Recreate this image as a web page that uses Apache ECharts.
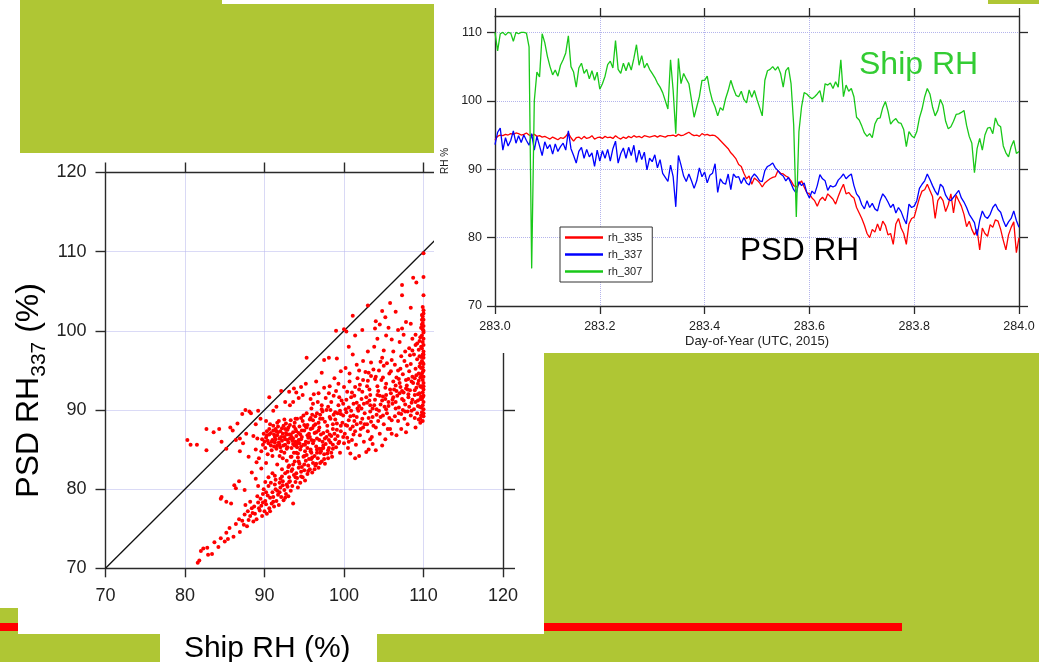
<!DOCTYPE html>
<html><head><meta charset="utf-8">
<script src="https://cdn.jsdelivr.net/npm/echarts@6.0.0/dist/echarts.min.js"></script>
<style>html,body{margin:0;padding:0;background:#fff;overflow:hidden}#chart{width:1039px;height:662px}</style>
</head><body><div id="chart"></div>
<script>
// ---------------- data ----------------
// time series: Day-of-Year 283.000 .. 284.000, sampled every 0.005 day (201 samples)
const dayStart = 283.0, dayStep = 0.005;
const timeTicks = [283.0, 283.2, 283.4, 283.6, 283.8, 284.0];
const rhTicks = [70, 80, 90, 100, 110];
const seriesNames = ['rh_335', 'rh_337', 'rh_307'];

const rh335 = [94.3,94.8,95.0,94.9,95.1,95.0,95.2,95.1,95.3,95.2,95.0,95.1,95.3,95.0,94.9,95.1,94.8,94.9,94.7,94.8,
94.6,94.4,94.7,94.5,94.3,94.6,94.5,94.8,95.3,94.6,94.1,94.6,94.7,94.4,94.8,94.5,94.6,94.9,94.4,94.6,
94.7,94.5,94.8,94.6,94.7,94.5,94.9,94.6,94.4,94.7,94.5,94.8,94.6,94.9,94.7,94.8,94.6,94.9,94.8,94.7,
94.8,94.9,94.7,94.9,94.8,94.7,94.9,
94.9,95.0,94.8,95.1,94.9,95.0,95.2,95.4,95.1,94.9,95.0,94.8,95.2,95.0,
95.1,94.9,95.0,94.9,94.6,94.2,93.8,93.4,93.0,92.4,92.0,91.5,90.7,90.4,89.4,88.6,89.0,87.8,88.7,88.4,
88.0,87.4,88.0,88.3,88.6,88.8,88.9,89.8,89.4,89.3,89.0,88.8,88.3,87.6,87.4,87.8,88.3,87.4,86.6,86.4,
85.8,85.4,84.6,85.5,85.9,85.4,86.4,86.0,85.6,84.9,86.0,87.0,87.8,
86.4,86.6,86.1,85.8,84.4,83.6,82.8,81.8,80.6,80.0,81.2,80.8,82.0,81.0,82.4,81.8,80.4,80.6,79.0,82.0,
82.8,81.4,80.6,79.0,82.0,82.8,83.0,84.4,85.8,86.8,87.0,87.8,86.9,86.0,82.8,85.4,86.0,85.4,83.8,84.8,
86.4,83.6,86.2,85.4,84.6,83.4,81.6,82.4,81.2,80.4,81.2,78.2,81.4,80.6,80.2,81.9,81.5,82.6,82.4,81.2,
79.6,78.2,80.4,81.5,82.3,77.8,80.0];

const rh337 = [93.6,95.4,96.0,92.8,94.6,93.4,94.2,95.6,93.8,94.9,93.9,95.0,94.2,93.5,95.2,92.8,94.8,93.4,92.0,94.0,
93.0,93.6,92.2,93.7,92.6,93.3,93.8,92.8,95.6,93.0,92.0,90.9,92.6,93.2,91.6,92.9,91.8,92.4,90.4,92.8,
91.2,92.7,91.6,92.9,91.2,93.0,94.1,90.9,92.3,93.1,91.6,93.2,92.0,93.5,91.0,92.8,91.4,92.5,89.9,91.6,
91.1,92.1,90.2,91.4,89.4,88.8,88.2,
90.6,88.9,84.5,92.0,90.6,89.0,88.2,89.3,88.3,87.2,88.3,90.2,88.9,89.6,88.0,89.1,89.4,90.8,86.6,88.6,
88.0,87.8,89.3,87.0,89.3,88.8,88.9,87.9,88.8,88.0,87.7,88.8,89.3,88.9,88.3,88.2,89.8,90.4,90.6,90.9,
90.2,89.8,89.3,89.0,88.3,88.8,87.9,87.0,86.5,88.2,87.6,88.0,86.6,85.8,86.8,86.4,87.6,89.2,88.6,88.3,
86.9,87.6,87.4,87.6,88.4,88.8,89.3,
88.6,89.0,89.3,87.6,86.4,85.9,84.8,84.2,85.4,84.4,85.0,84.2,83.9,85.4,86.4,85.9,85.2,84.4,84.9,83.6,
84.4,83.8,82.8,82.0,84.9,84.4,84.6,85.4,87.2,87.8,88.3,89.3,88.5,87.6,86.8,86.2,87.8,87.4,86.2,85.6,
85.4,85.9,86.4,86.9,85.8,85.2,84.4,83.4,82.8,82.2,80.3,82.5,83.9,83.1,82.8,83.4,84.4,84.9,84.1,83.7,
82.5,81.6,82.3,82.8,83.9,82.5,81.5];

const rh307 = [110.0,107.3,109.8,110.0,109.6,110.0,109.9,108.7,110.0,109.8,110.0,110.0,109.9,107.9,75.5,100.0,104.2,103.5,109.8,108.5,
106.5,105.0,103.8,104.5,103.6,105.2,106.0,107.0,109.5,105.0,104.2,102.0,104.8,105.5,104.0,104.6,103.2,104.4,103.0,104.2,
101.7,102.5,103.6,105.3,105.8,104.8,108.8,104.6,104.0,105.5,104.4,105.6,104.5,106.2,108.2,105.2,106.6,104.8,105.5,104.6,
104.0,103.4,102.6,102.0,101.2,100.0,98.8,
106.0,101.5,95.2,106.2,102.5,104.0,103.2,102.5,100.1,97.6,99.1,100.6,103.0,103.0,103.6,101.5,100.0,99.1,97.8,99.0,
98.6,100.3,101.5,103.0,101.8,100.8,100.6,101.4,100.2,99.7,101.6,100.5,101.5,100.2,99.0,97.8,103.0,104.4,104.6,105.0,
104.5,105.0,104.0,102.0,104.4,104.9,102.5,96.5,83.0,95.5,99.1,101.2,101.0,100.6,100.3,100.6,101.0,101.5,99.8,102.5,
102.3,102.6,101.8,102.8,102.0,106.0,100.6,
102.3,101.4,101.8,100.6,97.6,97.2,96.3,95.3,94.8,95.2,94.6,96.6,97.4,97.5,99.0,99.9,98.5,96.6,97.1,97.4,
96.8,96.7,95.8,93.3,95.5,94.9,94.6,95.5,97.5,98.8,100.6,101.8,101.0,99.1,97.8,98.6,100.2,99.3,97.0,95.9,
96.2,97.0,98.0,98.1,98.3,98.6,96.4,94.8,93.8,89.5,93.0,94.5,92.8,95.0,96.0,96.1,95.2,97.5,96.5,96.2,
93.4,92.4,91.8,93.3,94.2,92.3,92.6];

// scatter: [Ship RH, PSD RH337]
const scatterUpperCluster = [[90.2,86.5],[90.5,85.8],[90.8,87.1],[91.0,86.2],[91.2,85.4],[91.4,87.6],[91.6,86.8],[91.8,85.9],[92.0,87.3],[92.2,86.1],
[92.4,88.0],[92.6,85.6],[92.8,86.9],[93.0,87.8],[93.2,86.4],[93.4,85.2],[93.6,87.2],[93.8,88.4],[94.0,86.7],[94.2,85.9],
[94.4,87.9],[94.6,86.3],[94.8,88.6],[95.0,87.4],[95.2,86.0],[95.4,88.1],[95.6,87.0],[95.8,89.0],[96.0,87.7],[90.1,85.2],
[90.3,87.3],[90.6,86.9],[90.9,84.9],[91.1,88.0],[91.3,86.6],[91.5,85.1],[91.7,87.9],[91.9,86.4],[92.1,84.8],[92.3,87.0],
[92.5,86.6],[92.7,88.3],[92.9,85.3],[93.1,86.9],[93.3,88.7],[93.5,86.1],[93.7,84.6],[93.9,87.6],[94.1,88.9],[94.3,86.2],
[94.5,85.0],[94.7,87.4],[94.9,89.3],[95.1,85.6],[95.3,87.8],[95.5,86.5],[95.7,88.8],[95.9,86.2],[90.0,86.0],[90.4,84.4],
[90.7,88.2],[91.0,84.2],[91.3,85.9],[91.6,88.4],[92.0,85.3],[92.3,83.9],[92.6,87.6],[92.9,86.2],[93.3,84.1],[93.6,85.7],
[93.9,86.0],[94.2,84.5],[94.6,85.4],[95.0,84.2],[95.4,85.2],[95.8,84.8],[96.2,86.1],[96.4,88.2],[96.6,89.6],[96.8,87.4],
[97.0,88.9],[97.2,90.1],[89.8,85.6],[89.9,87.0],[89.7,86.3],[90.2,88.6],[89.6,84.8],[90.9,86.0],[91.4,86.3],[92.1,86.6],
[92.7,87.1],[93.4,86.6],[94.0,87.3],[94.5,86.9],[95.2,87.9],[95.7,86.6],[91.7,87.2],[92.4,85.5],[93.0,85.9],[93.7,87.9],
[90.4,86.1],[90.8,85.5],[91.2,86.9],[91.5,87.3],[91.9,85.6],[92.2,87.7],[92.6,86.3],[92.9,87.5],[93.3,86.9],[93.6,86.4],
[94.0,85.6],[94.3,87.1],[94.7,86.6],[95.0,88.1],[95.4,86.8],[95.8,87.6],[96.1,88.7],[96.5,87.2],[90.6,87.6],[91.1,87.4],
[91.8,88.6],[92.5,88.8],[93.2,88.1],[93.9,88.9],[94.6,89.0],[95.3,89.6],[96.0,89.4],[90.3,86.8],[91.6,85.5],[92.8,85.1],
[94.1,85.3],[95.5,85.9]];

const scatterMainBand = [[96.0,84.0],[96.1,85.8],[96.2,88.0],[95.9,90.2],[96.5,83.2],[96.6,86.4],[96.4,89.2],[96.7,91.0],
[97.0,84.6],[97.1,86.9],[96.9,87.8],[97.2,90.6],[97.5,83.8],[97.4,85.5],[97.6,88.5],[97.3,89.8],[97.7,91.5],
[98.0,84.9],[98.1,86.2],[97.9,87.3],[98.2,89.1],[98.0,90.4],[98.5,84.1],[98.4,86.7],[98.6,88.2],[98.3,90.0],[98.7,91.8],
[99.0,85.3],[99.1,87.5],[98.9,88.8],[99.2,89.6],[99.0,92.4],[99.5,84.6],[99.4,86.0],[99.6,88.0],[99.3,90.6],[99.7,91.2],
[100.0,85.8],[100.1,87.0],[99.9,89.3],[100.2,90.1],[100.0,92.9],[100.5,85.2],[100.4,86.5],[100.6,88.7],[100.3,91.3],[100.7,93.6],
[101.0,86.2],[101.1,87.9],[100.9,89.9],[101.2,90.8],[101.0,92.2],[101.5,85.6],[101.4,87.3],[101.6,89.1],[101.3,91.8],[101.7,94.0],
[102.0,86.8],[102.1,88.4],[101.9,90.5],[102.2,91.4],[102.0,93.2],[102.5,86.0],[102.4,87.8],[102.6,89.6],[102.3,92.3],[102.7,94.8],
[103.0,87.3],[103.1,89.0],[102.9,90.9],[103.2,92.6],[103.0,93.7],[103.5,86.6],[103.4,88.5],[103.6,90.2],[103.3,91.9],[103.7,95.1],
[104.0,87.8],[104.1,89.4],[103.9,91.3],[104.2,93.0],[104.0,94.2],[104.5,87.0],[104.4,89.9],[104.6,90.7],[104.3,92.4],[104.7,93.8],
[105.0,88.2],[105.1,90.4],[104.9,91.7],[105.2,92.8],[105.0,95.6],[105.5,87.6],[105.4,89.6],[105.6,91.0],[105.3,93.3],[105.7,94.6],
[106.0,88.7],[106.1,90.8],[105.9,92.1],[106.2,93.6],[106.0,96.3],
[96.3,87.1],[96.8,88.4],[97.2,85.1],[97.8,86.6],[98.3,88.9],[98.8,87.0],[99.3,85.8],[99.8,88.4],[100.3,89.7],[100.8,87.6],
[101.3,88.6],[101.8,89.9],[102.3,88.9],[102.8,91.6],[103.3,89.8],[103.8,90.6],[104.3,88.6],[104.8,91.2],[105.3,90.1],[105.8,92.6],
[96.6,85.0],[97.4,87.1],[98.6,85.6],[99.6,87.3],[100.6,86.0],[101.6,88.2],[102.6,88.2],[103.6,89.1],[104.6,89.1],[105.6,90.5],
[97.0,89.4],[98.4,91.0],[99.4,91.6],[100.4,92.3],[101.4,92.9],[102.4,93.8],[103.4,94.3],[104.4,95.0],[105.4,95.9],[96.2,92.0],
[97.9,88.0],[98.9,89.7],[99.9,90.8],[100.9,91.6],[101.9,92.6],[102.9,93.0],[103.9,93.9],[104.9,94.1],[99.2,86.7],[100.2,88.1],
[101.2,89.3],[102.2,90.2],[103.2,91.2],[104.2,91.9],[105.2,91.4],[97.6,86.4],[98.6,87.6],[99.6,89.5],[100.6,90.3],[101.6,90.9],
[96.9,86.2],[97.3,88.9],[97.8,90.0],[98.2,86.9],[98.7,89.4],[99.1,88.3],[99.5,89.9],[99.9,86.6],[100.4,88.0],[100.8,89.2],
[101.2,86.9],[101.7,90.2],[102.1,87.6],[102.5,90.8],[102.9,88.2],[103.3,90.6],[103.7,88.0],[104.1,90.1],[104.5,91.8],[104.9,89.3],
[105.3,91.9],[105.7,89.0],[105.9,94.9],[104.6,96.1],[103.1,94.7],[101.9,95.0],[100.7,94.6],[99.3,93.3],[98.1,92.1]];

const scatterRightBand = [[106.4,89.2],[106.5,91.0],[106.3,92.6],[106.6,94.1],[106.8,88.6],[106.9,90.3],[106.7,91.8],[107.0,93.4],[106.8,95.0],
[107.2,89.5],[107.3,91.4],[107.1,92.9],[107.4,94.5],[107.6,88.9],[107.7,90.7],[107.5,92.2],[107.8,93.8],[107.6,96.2],
[108.0,89.8],[108.1,91.6],[107.9,93.1],[108.2,94.9],[108.4,89.3],[108.5,90.9],[108.3,92.5],[108.6,94.2],[108.4,95.8],
[108.8,90.1],[108.9,91.9],[108.7,93.4],[109.0,95.2],[108.8,97.0],[109.2,89.6],[109.3,91.2],[109.1,92.8],[109.4,94.6],[109.2,96.4],
[109.5,90.4],[109.5,92.1],[109.4,93.7],[109.5,95.5],[106.5,90.2],[107.0,92.1],[107.5,91.2],[108.0,92.6],[108.5,93.6],[109.0,91.0],
[109.3,93.3],[106.9,93.9],[107.9,95.6],[108.9,94.0],[109.4,97.6],[109.0,99.5],[108.3,96.9],[107.2,96.8],[106.4,95.7],
[106.6,92.4],[107.4,90.0],[107.8,92.7],[108.2,90.4],[108.6,91.3],[109.1,94.4],[106.2,91.6],[107.1,95.2],[108.1,93.9],[109.3,90.5],
[106.1,91.3],[106.5,93.1],[106.9,89.6],[107.3,92.4],[107.7,89.8],[108.1,92.0],[108.5,89.9],[108.9,92.5],[109.3,92.0],[109.6,94.1],
[109.5,96.8],[109.2,98.4],[108.6,97.5],[107.7,97.4]];

const scatterColumn110 = [[109.9,88.6],[110.0,89.2],[109.8,89.7],[110.0,90.1],[109.9,90.6],[110.0,91.0],[109.8,91.4],[110.0,91.8],[109.9,92.2],[110.0,92.6],
[109.8,93.0],[110.0,93.4],[109.9,93.8],[110.0,94.2],[109.8,94.6],[110.0,95.0],[109.9,95.4],[110.0,95.8],[109.8,96.2],[110.0,96.6],
[109.9,97.0],[110.0,97.4],[109.8,97.8],[110.0,98.2],[109.9,98.6],[110.0,99.0],[109.8,99.4],[110.0,99.8],[109.9,100.2],[110.0,100.6],
[109.9,101.0],[110.0,101.4],[109.9,101.8],[110.0,102.2],[110.0,102.6],[109.7,90.3],[109.7,91.7],[109.7,92.9],[109.7,94.3],[109.7,95.3],
[109.7,96.7],[109.7,98.0],[109.6,99.2],[109.7,89.3],[110.0,89.6],[110.0,93.0],[110.0,97.0],[109.9,96.0],[109.9,94.8],[109.9,91.6],
[110.0,100.0],[109.8,100.8],[109.6,88.9],[109.9,103.0],[110.0,104.5],[110.0,106.8],[110.0,109.8],
[109.6,91.4],[109.6,93.0],[109.6,95.9],[109.5,98.7],[109.8,102.0],[109.7,100.4],[109.8,101.4]];

const scatterLowerBranch = [[81.6,70.7],[81.8,71.0],[82.0,72.2],[82.3,72.5],[82.8,72.6],[82.9,71.7],[83.4,71.8],[83.7,73.3],[84.2,72.7],[84.5,73.8],
[85.0,73.4],[85.2,74.5],[85.4,73.7],[85.6,75.1],[86.1,74.0],[86.4,75.6],[86.8,76.2],[86.9,74.6],[87.2,76.0],[87.5,76.8],
[87.8,75.3],[87.9,77.2],[88.2,76.6],[88.4,77.6],[88.6,75.9],[88.2,78.4],[87.6,78.0],
[88.8,76.9],[88.7,77.8],[89.0,76.2],[89.2,78.3],[89.1,79.1],[89.4,77.3],[89.5,78.8],[89.7,76.6],[89.6,77.9],[89.8,79.4],
[90.0,77.2],[90.1,78.5],[89.9,80.0],[90.3,76.9],[90.2,78.1],[90.4,79.2],[90.6,77.6],[90.7,78.9],[90.5,80.4],[90.9,78.2],
[91.0,79.6],[91.2,77.8],[91.1,79.0],[91.3,80.6],[91.5,78.5],[91.6,79.8],[91.4,81.2],[91.8,78.0],[91.7,79.3],[91.9,80.8],
[92.1,79.0],[92.0,80.2],[92.2,81.6],[92.4,78.6],[92.5,79.9],[92.3,81.0],[92.7,79.4],[92.8,80.6],[92.6,82.0],[93.0,79.1],
[92.9,80.3],[93.1,81.5],[93.0,82.8],[93.3,79.8],[93.2,81.0],[93.4,82.3],[93.6,78.2],[93.5,80.4],[93.7,81.8],[93.6,83.1],
[93.9,80.9],[94.0,82.0],[93.8,83.5],[94.2,80.2],[94.1,81.4],[94.3,82.7],[94.2,84.0],[94.5,80.8],[94.6,82.2],[94.4,83.2],
[94.8,81.5],[94.7,82.8],[94.9,84.1],[95.1,81.1],[95.0,82.4],[95.2,83.6],[95.1,84.8],[95.4,81.9],[95.5,83.0],[95.3,84.3],
[95.7,82.5],[95.6,83.8],[95.8,85.0],[96.0,82.1],[96.1,83.3],[95.9,84.6],[96.4,83.0],[96.3,84.2],[96.5,85.4],[96.8,82.7],
[96.7,83.9],[96.9,85.1],[97.2,83.5],[97.1,84.8],[97.3,86.0],[97.6,83.2],[97.5,84.4],[97.7,85.7],[98.0,83.9],[98.1,85.2],
[98.4,84.6],[98.3,85.9],
[91.0,82.0],[91.6,83.1],[92.2,82.5],[92.8,83.6],[93.4,84.1],[90.5,81.5],[91.9,84.2],[92.5,84.6],[93.1,83.0],[90.2,83.3],
[89.6,82.6],[89.2,80.4],[88.9,81.3],[89.0,83.4],[90.8,80.8],[94.0,84.6],[94.4,85.8],[93.8,85.5],
[89.3,77.6],[89.8,78.3],[90.2,79.6],[90.7,77.2],[91.1,78.4],[91.4,80.0],[91.9,79.6],[92.3,80.5],[92.6,78.9],[93.1,80.9],
[93.5,82.5],[93.9,81.5],[94.3,83.5],[94.6,81.6],[95.0,83.1],[95.5,82.3],[95.9,83.8],[96.3,82.5],[96.6,84.6],[97.0,83.3],
[97.4,85.2],[97.9,84.5],[98.6,85.1],[98.9,86.3],[88.5,77.0],[88.0,76.1],[87.4,75.5],[90.1,80.9],[91.3,81.7],[92.0,81.3],
[92.9,82.2],[94.9,85.6]];

const scatterOutliers = [[80.3,86.2],[80.7,85.6],[81.5,85.6],[82.7,84.9],[82.7,87.6],[83.6,87.2],[84.3,87.6],[84.6,86.0],[85.2,85.1],[85.7,87.8],
[86.0,87.4],[86.6,88.3],[86.9,86.4],[87.2,89.5],[87.6,90.0],[88.1,89.8],[88.3,89.6],[88.9,88.2],[89.2,89.9],[89.5,88.9],
[90.6,91.6],[91.1,89.9],[91.5,90.4],[92.1,92.4],[92.6,91.0],[93.2,90.6],[93.6,91.0],[94.0,92.2],[94.3,91.5],[94.8,91.9],
[95.3,96.6],[96.5,93.6],[97.5,96.3],[98.1,96.6],[96.1,90.8],[86.9,84.8],[87.3,85.8],[88.0,84.1],[84.5,78.8],[85.2,78.4],
[86.2,80.5],[86.8,81.0],[87.5,79.9],[88.4,82.1],[88.9,85.0],[89.3,83.9],[89.1,86.4],[88.6,86.7],[87.7,87.0],[86.4,86.2],
[84.6,79.0],[85.8,78.2],[86.4,80.1],
[106.2,97.4],[107.0,98.6],[107.5,99.5],[108.2,97.8],[108.6,99.0],[109.0,98.2],[105.3,99.4],[104.2,99.0],[103.8,98.0],[103.0,97.4],
[102.4,96.2],[101.6,95.7],[101.1,97.0],[100.2,95.3],[99.6,94.9],[98.8,94.0],[98.2,93.0],[97.5,92.8],[96.8,92.1],[95.8,91.4],
[95.2,93.3],[94.6,92.9],[93.7,92.7],[93.1,92.3],[97.2,94.7],[99.1,96.5],[100.6,98.0],[101.4,99.4],[103.9,100.3],[104.5,100.8],
[105.6,100.4],[106.8,100.1],[107.8,101.1],[107.3,100.3],[108.4,100.9],[106.0,98.9],[105.0,97.5],[104.8,96.6],[103.4,96.0],
[99.0,100.0],[100.0,100.2],[100.3,99.9],[101.1,101.9],[103.0,103.2],[105.8,103.5],[107.3,105.8],[107.3,104.5],[108.7,106.7],[109.1,106.1],
[108.4,102.9],[106.5,102.4],[105.2,101.7],[104.8,102.5],[104.0,101.2],[102.3,100.1],
[109.4,88.8],[109.6,88.4],[108.9,89.0],[108.0,88.2],[107.2,87.6],[106.0,87.0],[105.2,86.3],[104.8,85.5],[103.6,85.7],[103.1,85.0],
[102.8,84.7],[101.9,84.2],[104.0,84.9],[106.6,86.8],[107.8,87.2],[109.0,87.8],[103.3,86.3],[105.8,87.6],[101.4,83.9],[100.8,84.5]];

const scatterRange = [70, 120];
const scatterTicks = [70, 80, 90, 100, 110, 120];
const oneToOne = [70, 120];

// ---------------- chart ----------------
const FONT = "'Liberation Sans', Arial, Helvetica, sans-serif";
const GREEN = '#afc634';
const AXIS_COLOR = '#2a2a2a';
const GRID_COLOR = '#b4b4ec';

const toTimePairs = vals => vals.map((v, i) => [Number((dayStart + i * dayStep).toFixed(3)), v]);
const scatterAll = [].concat(scatterUpperCluster, scatterMainBand, scatterRightBand, scatterColumn110, scatterLowerBranch, scatterOutliers);

function frameAxis(base, extra) {
  return Object.assign({
    type: 'value',
    axisLine: { show: true, onZero: false, lineStyle: { color: AXIS_COLOR, width: 1.4 } },
    axisTick: { show: true, inside: false, lineStyle: { color: AXIS_COLOR, width: 1.4 } },
    splitLine: { show: false },
    axisLabel: { show: false },
  }, base, extra);
}

const scatterAxisCommon = { gridIndex: 0, min: scatterRange[0], max: scatterRange[1], interval: 10, z: 3 };
const timeXCommon = { gridIndex: 1, min: timeTicks[0], max: timeTicks[timeTicks.length - 1], interval: 0.2, z: 6 };
const timeYCommon = { gridIndex: 1, min: rhTicks[0], max: 112.4, interval: 10, z: 6 };

const option = {
  animation: false,
  backgroundColor: '#ffffff',
  textStyle: { fontFamily: FONT },
  grid: [
    { left: 105.5, top: 172.5, width: 397.5, height: 395.8, show: false, containLabel: false, outerBoundsMode: 'none' },
    { left: 495, top: 16, width: 524, height: 290, show: false, containLabel: false, outerBoundsMode: 'none' }
  ],
  xAxis: [
    frameAxis(scatterAxisCommon, {
      position: 'bottom',
      axisTick: { show: true, inside: false, length: 9, lineStyle: { color: AXIS_COLOR, width: 1.4 } },
      axisLabel: { show: true, margin: 19, fontSize: 18, color: '#222', fontFamily: FONT },
      splitLine: { show: true, lineStyle: { color: GRID_COLOR, type: 'dotted', width: 1 } },
      name: 'Ship RH (%)', nameLocation: 'middle', nameGap: 65,
      nameTextStyle: { fontSize: 30, color: '#000', fontFamily: FONT, padding: [0, 74, 0, 0] }
    }),
    frameAxis(scatterAxisCommon, {
      position: 'top',
      axisTick: { show: true, inside: false, length: 10, lineStyle: { color: AXIS_COLOR, width: 1.4 } }
    }),
    frameAxis(timeXCommon, {
      position: 'bottom',
      axisTick: { show: true, inside: false, length: 8, lineStyle: { color: AXIS_COLOR, width: 1.3 } },
      axisLabel: { show: true, margin: 14, fontSize: 12.5, color: '#222', fontFamily: FONT, formatter: v => v.toFixed(1) },
      splitLine: { show: true, lineStyle: { color: GRID_COLOR, type: 'dotted', width: 1 } },
      name: 'Day-of-Year (UTC, 2015)', nameLocation: 'middle', nameGap: 29,
      nameTextStyle: { fontSize: 13, color: '#222', fontFamily: FONT }
    }),
    frameAxis(timeXCommon, {
      position: 'top',
      axisTick: { show: true, inside: false, length: 8, lineStyle: { color: AXIS_COLOR, width: 1.3 } }
    })
  ],
  yAxis: [
    frameAxis(scatterAxisCommon, {
      position: 'left',
      axisTick: { show: true, inside: false, length: 10, lineStyle: { color: AXIS_COLOR, width: 1.4 } },
      axisLabel: { show: true, margin: 19, fontSize: 18, color: '#222', fontFamily: FONT },
      splitLine: { show: true, lineStyle: { color: GRID_COLOR, type: 'dotted', width: 1 } },
      name: '{a|PSD RH}{b|337}{a| (%)}', nameLocation: 'middle', nameGap: 56, nameRotate: 90,
      nameTextStyle: {
        color: '#000',
        padding: [0, 40, 0, 0],
        rich: {
          a: { fontSize: 32, lineHeight: 40, color: '#000', fontFamily: FONT },
          b: { fontSize: 21, lineHeight: 20, color: '#000', fontFamily: FONT, verticalAlign: 'bottom' }
        }
      }
    }),
    frameAxis(scatterAxisCommon, {
      position: 'right',
      axisTick: { show: true, inside: false, length: 12, lineStyle: { color: AXIS_COLOR, width: 1.4 } }
    }),
    frameAxis(timeYCommon, {
      position: 'left',
      axisTick: { show: true, inside: false, length: 8, customValues: rhTicks, lineStyle: { color: AXIS_COLOR, width: 1.3 } },
      axisLabel: { show: true, margin: 13, fontSize: 12.5, color: '#222', fontFamily: FONT, showMaxLabel: false,
        formatter: v => (rhTicks.indexOf(v) >= 0 ? String(v) : '') },
      splitLine: { show: true, lineStyle: { color: GRID_COLOR, type: 'dotted', width: 1 } },
      name: 'RH %', nameLocation: 'middle', nameGap: 45, nameRotate: 90,
      nameTextStyle: { fontSize: 10, color: '#222', fontFamily: FONT }
    }),
    frameAxis(timeYCommon, {
      position: 'right',
      axisTick: { show: true, inside: false, length: 9, customValues: rhTicks, lineStyle: { color: AXIS_COLOR, width: 1.3 } }
    })
  ],
  legend: {
    data: seriesNames,
    orient: 'vertical',
    left: 560, top: 227,
    icon: 'rect',
    itemWidth: 38, itemHeight: 2.5, itemGap: 4,
    backgroundColor: '#fff',
    borderColor: '#333', borderWidth: 1,
    padding: [4, 10, 4, 5],
    textStyle: { fontSize: 11, color: '#222', fontFamily: FONT, lineHeight: 13 },
    z: 8
  },
  graphic: { elements: [
    { type: 'rect', z: 0, shape: { x: 20, y: 0, width: 202, height: 4 }, style: { fill: GREEN } },
    { type: 'rect', z: 0, shape: { x: 20, y: 4, width: 414, height: 149 }, style: { fill: GREEN } },
    { type: 'rect', z: 0, shape: { x: 988, y: 0, width: 51, height: 4 }, style: { fill: GREEN } },
    { type: 'rect', z: 0, shape: { x: 544, y: 353, width: 495, height: 281 }, style: { fill: GREEN } },
    { type: 'rect', z: 0, shape: { x: 0, y: 608, width: 18, height: 26 }, style: { fill: GREEN } },
    { type: 'rect', z: 0, shape: { x: 0, y: 634, width: 160, height: 28 }, style: { fill: GREEN } },
    { type: 'rect', z: 0, shape: { x: 377, y: 634, width: 662, height: 28 }, style: { fill: GREEN } },
    { type: 'rect', z: 1, shape: { x: 0, y: 623, width: 902, height: 8 }, style: { fill: '#ff0000' } },
    { type: 'rect', z: 2, shape: { x: 18, y: 153, width: 526, height: 481 }, style: { fill: '#ffffff' } },
    { type: 'rect', z: 5, shape: { x: 434, y: 4, width: 605, height: 349 }, style: { fill: '#ffffff' } },
    { type: 'text', z: 9, x: 859, y: 65,
      style: { text: 'Ship RH', fill: '#33cc33', font: '32px ' + FONT, fontSize: 32, fontFamily: FONT,
        textAlign: 'left', textVerticalAlign: 'middle', align: 'left', verticalAlign: 'middle' } },
    { type: 'text', z: 9, x: 740, y: 251,
      style: { text: 'PSD RH', fill: '#000000', font: '31.5px ' + FONT, fontSize: 31.5, fontFamily: FONT,
        textAlign: 'left', textVerticalAlign: 'middle', align: 'left', verticalAlign: 'middle' } }
  ]},
  series: [
    { name: 'scatter', type: 'scatter', xAxisIndex: 0, yAxisIndex: 0, z: 3,
      symbol: 'circle', symbolSize: 4, itemStyle: { color: '#ff0000', opacity: 1 },
      data: scatterAll, silent: true },
    { name: '1:1', type: 'line', xAxisIndex: 0, yAxisIndex: 0, z: 3, symbol: 'none',
      lineStyle: { color: '#111', width: 1.3 }, data: oneToOne.map(v => [v, v]), silent: true },
    { name: seriesNames[0], type: 'line', xAxisIndex: 2, yAxisIndex: 2, z: 7, symbol: 'none', showSymbol: false,
      color: '#ff0000', lineStyle: { color: '#ff0000', width: 1.3 }, data: toTimePairs(rh335) },
    { name: seriesNames[1], type: 'line', xAxisIndex: 2, yAxisIndex: 2, z: 7, symbol: 'none', showSymbol: false,
      color: '#0000ff', lineStyle: { color: '#0000ff', width: 1.3 }, data: toTimePairs(rh337) },
    { name: seriesNames[2], type: 'line', xAxisIndex: 2, yAxisIndex: 2, z: 7, symbol: 'none', showSymbol: false,
      color: '#19c819', lineStyle: { color: '#19c819', width: 1.3 }, data: toTimePairs(rh307) }
  ]
};

const chart = echarts.init(document.getElementById('chart'), null, { renderer: 'canvas' });
chart.setOption(option);
</script></body></html>
